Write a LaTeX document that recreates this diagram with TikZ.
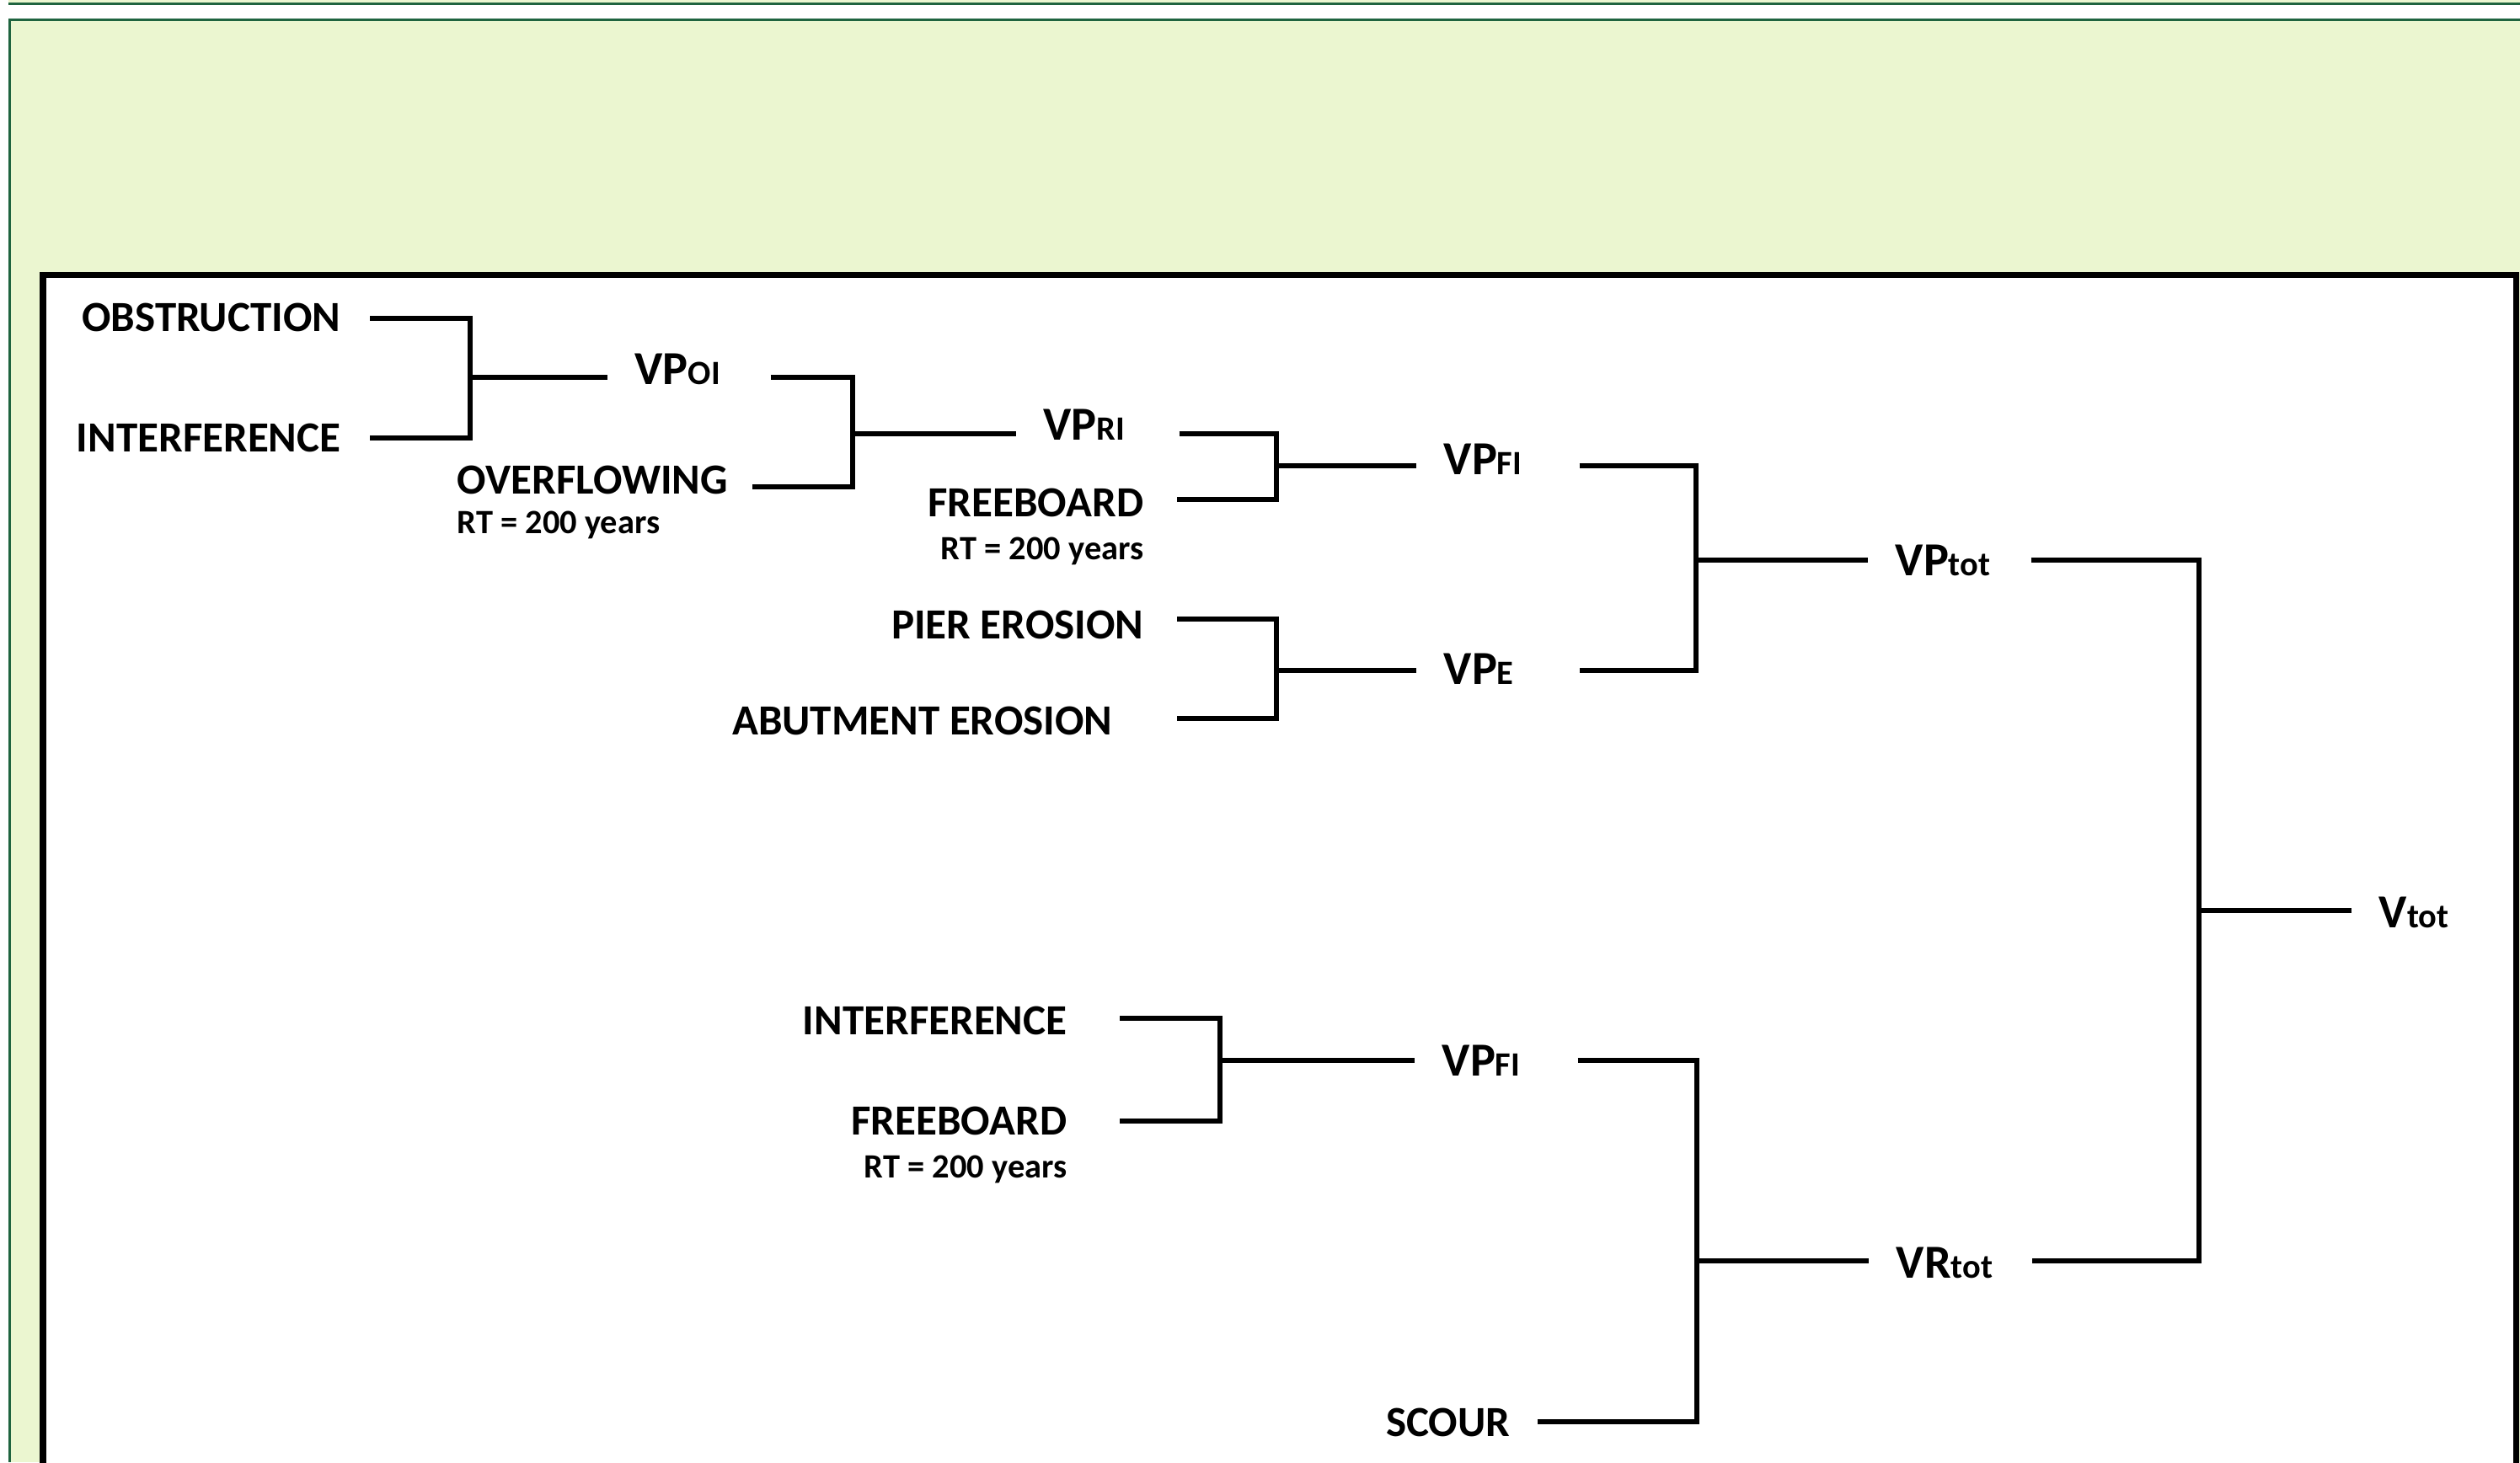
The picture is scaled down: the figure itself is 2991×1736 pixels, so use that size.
\documentclass[tikz,border=0pt]{standalone}
\usepackage{fontspec}
\setmainfont{Carlito}
\usetikzlibrary{calc}
\definecolor{panelgreen}{RGB}{235,246,208}
\definecolor{bordergreen}{RGB}{31,100,63}
\newcommand{\lblfont}{\fontsize{14.5}{17}\selectfont\bfseries}
\newcommand{\vpfont}{\fontsize{16}{19}\selectfont\bfseries}
\newcommand{\smlfont}{\fontsize{11.5}{13}\selectfont\bfseries}
\begin{document}
\begin{tikzpicture}[x=0.01cm,y=-0.01cm,
  lab/.style={inner sep=0pt, font=\lblfont},
  note/.style={inner sep=0pt, font=\smlfont},
  vp/.style={inner xsep=0.32cm, inner ysep=0pt, text width=1.28cm, align=left, font=\vpfont},
  wire/.style={line width=0.06cm, line join=miter, line cap=butt}]
\useasboundingbox (0,0) rectangle (2991,1736);
\clip (0,0) rectangle (2991,1736);
% backgrounds
\fill[panelgreen] (10,0) rectangle (2991,5);
\draw[bordergreen, line width=0.03cm] (10,4.5) -- (2991,4.5);
\fill[panelgreen] (11,23) rectangle (2991,1736);
\draw[bordergreen, line width=0.03cm] (2991,23.5) -- (11.5,23.5) -- (11.5,1736);
\draw[black, fill=white, line width=0.07cm] (51,326) rectangle (2986,1780);
% labels
\node[lab, anchor=base east] (obs) at (405,393) {OBSTRUCTION};
\node[lab, anchor=base east] (int1) at (405,536) {INTERFERENCE};
\node[lab, anchor=base west] (ovf) at (542,586) {OVERFLOWING};
\node[note, anchor=base west] (rt1) at (542,633) {RT = 200 years};
\node[lab, anchor=base east] (fb1) at (1358,613) {FREEBOARD};
\node[note, anchor=base east] (rt2) at (1358,664) {RT = 200 years};
\node[lab, anchor=base east] (pier) at (1358,758) {PIER EROSION};
\node[lab, anchor=base east] (abut) at (1321,872) {ABUTMENT EROSION};
\node[lab, anchor=base east] (int2) at (1267,1228) {INTERFERENCE};
\node[lab, anchor=base east] (fb2) at (1267,1347) {FREEBOARD};
\node[note, anchor=base east] (rt3) at (1267,1398) {RT = 200 years};
\node[lab, anchor=base east] (scour) at (1793,1705) {SCOUR};
% VP nodes
\node[vp, anchor=base west] (vpoi) at (721,456) {VP{\smlfont OI}};
\node[vp, anchor=base west] (vpri) at (1206,522) {VP{\smlfont RI}};
\node[vp, anchor=base west] (vpfi) at (1681,563) {VP{\smlfont FI}};
\node[vp, anchor=base west] (vpe) at (1681,812) {VP{\smlfont E}};
\node[vp, anchor=base west] (vptot) at (2217,683) {VP{\smlfont tot}};
\node[vp, anchor=base west] (vpfi2) at (1679,1277) {VP{\smlfont FI}};
\node[vp, anchor=base west] (vrtot) at (2218,1517) {VR{\smlfont tot}};
\node[vp, anchor=base west] (vtot) at (2791,1101) {V{\smlfont tot}};
% free ends and joints
\coordinate (obs-w) at (439,378);
\coordinate (int1-w) at (439,520);
\coordinate (ovf-w) at (893,578);
\coordinate (fb1-w) at (1397,593);
\coordinate (pier-w) at (1397,735);
\coordinate (abut-w) at (1397,853);
\coordinate (int2-w) at (1329,1209);
\coordinate (fb2-w) at (1329,1331);
\coordinate (scour-w) at (1825,1688);
\coordinate (j1) at (558,448);
\coordinate (j2) at (1012,515);
\coordinate (j3) at (1515,553);
\coordinate (j4) at (1515,796);
\coordinate (j5) at (2013,665);
\coordinate (j6) at (2610,1081);
\coordinate (j7) at (1448,1259);
\coordinate (j8) at (2014,1497);
% connectors
\draw[wire] (obs-w) -| (j1) |- (int1-w);
\draw[wire] (j1) -- (vpoi.west |- j1);
\draw[wire] (vpoi.east |- j1) -| (j2) |- (ovf-w);
\draw[wire] (j2) -- (vpri.west |- j2);
\draw[wire] (vpri.east |- j2) -| (j3) |- (fb1-w);
\draw[wire] (j3) -- (vpfi.west |- j3);
\draw[wire] (pier-w) -| (j4) |- (abut-w);
\draw[wire] (j4) -- (vpe.west |- j4);
\draw[wire] (vpfi.east |- j3) -| (j5) |- (vpe.east |- j4);
\draw[wire] (j5) -- (vptot.west |- j5);
\draw[wire] (int2-w) -| (j7) |- (fb2-w);
\draw[wire] (j7) -- (vpfi2.west |- j7);
\draw[wire] (vpfi2.east |- j7) -| (j8) |- (scour-w);
\draw[wire] (j8) -- (vrtot.west |- j8);
\draw[wire] (vptot.east |- j5) -| (j6) |- (vrtot.east |- j8);
\draw[wire] (j6) -- (vtot.west |- j6);
\end{tikzpicture}
\end{document}
